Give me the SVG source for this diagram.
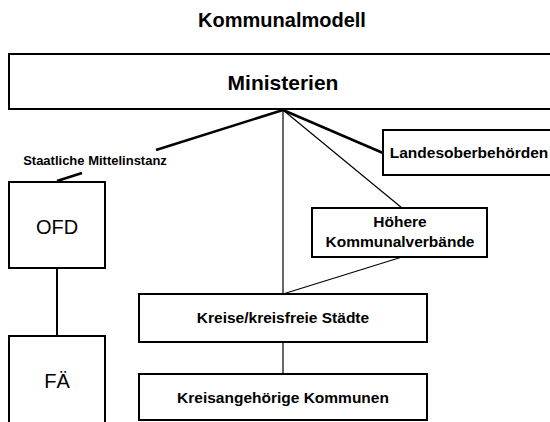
<svg xmlns="http://www.w3.org/2000/svg" width="550" height="422" viewBox="0 0 550 422">
  <style>
    .box { fill: #fff; stroke: #000; stroke-width: 2; }
    .t { font-family: "Liberation Sans", Arial, sans-serif; fill: #000; text-anchor: middle; }
    .b { font-weight: bold; }
    .thick { stroke: #000; stroke-width: 2.5; fill: none; }
    .mid { stroke: #000; stroke-width: 2; fill: none; }
    .thin { stroke: #000; stroke-width: 1.2; fill: none; }
  </style>
  <rect width="550" height="422" fill="#fff"/>

  <text class="t b" x="282" y="27" font-size="20">Kommunalmodell</text>

  <!-- connectors -->
  <g id="connectors">
    <line class="thick" x1="283" y1="110" x2="156" y2="150"/>
    <line class="thick" x1="82" y1="173" x2="57" y2="181"/>
    <line class="thick" x1="283" y1="110" x2="383" y2="153"/>
    <line class="thin" x1="283" y1="110" x2="283" y2="294"/>
    <line class="thin" x1="283" y1="110" x2="402" y2="208"/>
    <line class="thin" x1="402" y1="257" x2="283" y2="294"/>
    <line class="mid" x1="57" y1="268" x2="57" y2="336"/>
    <line class="thin" x1="283" y1="342" x2="283" y2="374"/>
  </g>

  <g id="ministerien">
    <rect class="box" x="9" y="54" width="546" height="55"/>
    <text class="t b" x="283" y="90" font-size="21">Ministerien</text>
  </g>

  <g id="mittelinstanz-label">
    <text class="t b" x="95" y="165" font-size="13">Staatliche Mittelinstanz</text>
  </g>

  <g id="landesoberbehoerden">
    <rect class="box" x="383" y="130" width="172" height="45"/>
    <text class="t b" x="469" y="158" font-size="15.5">Landesoberbehörden</text>
  </g>

  <g id="ofd">
    <rect class="box" x="9" y="182" width="96" height="86"/>
    <text class="t" x="57" y="234" font-size="20">OFD</text>
  </g>

  <g id="fae">
    <rect class="box" x="9" y="336" width="96" height="100"/>
    <text class="t" x="57" y="388" font-size="20">FÄ</text>
  </g>

  <g id="hoehere-kommunalverbaende">
    <rect class="box" x="312" y="208" width="175" height="49"/>
    <text class="t b" x="400" y="227" font-size="15.5">Höhere</text>
    <text class="t b" x="400" y="247" font-size="15.5">Kommunalverbände</text>
  </g>

  <g id="kreise">
    <rect class="box" x="139" y="294" width="288" height="48"/>
    <text class="t b" x="283" y="323" font-size="15.5">Kreise/kreisfreie Städte</text>
  </g>

  <g id="kreisangehoerige">
    <rect class="box" x="139" y="374" width="288" height="46"/>
    <text class="t b" x="283" y="403" font-size="15.5">Kreisangehörige Kommunen</text>
  </g>
</svg>
